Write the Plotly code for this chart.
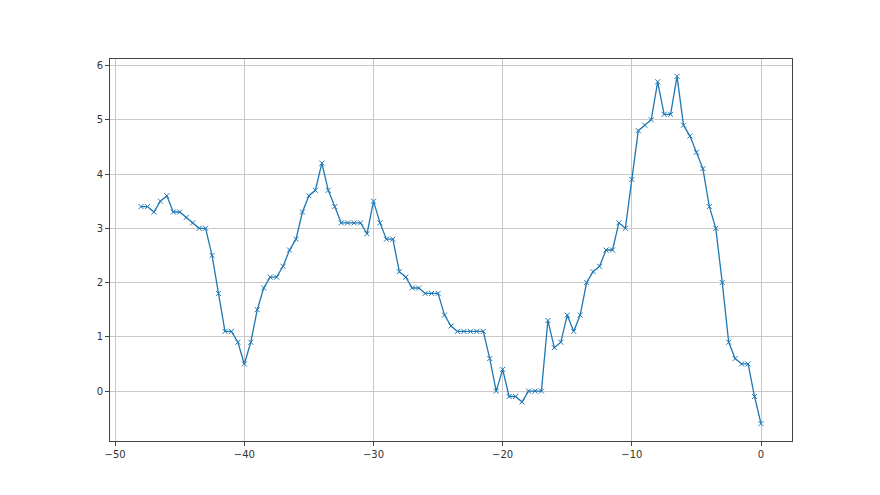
import plotly.graph_objects as go

x_values = [-48 + 0.5 * i for i in range(97)]
y_values = [
    3.4, 3.4, 3.3, 3.5, 3.6, 3.3, 3.3, 3.2, 3.1, 3.0, 3.0, 2.5, 1.8, 1.1, 1.1, 0.9, 0.5,
    0.9, 1.5, 1.9, 2.1, 2.1, 2.3, 2.6, 2.8, 3.3, 3.6, 3.7, 4.2, 3.7, 3.4, 3.1, 3.1,
    3.1, 3.1, 2.9, 3.5, 3.1, 2.8, 2.8, 2.2, 2.1, 1.9, 1.9, 1.8, 1.8, 1.8, 1.4, 1.2,
    1.1, 1.1, 1.1, 1.1, 1.1, 0.6, 0.0, 0.4, -0.1, -0.1, -0.2, 0.0, 0.0, 0.0, 1.3,
    0.8, 0.9, 1.4, 1.1, 1.4, 2.0, 2.2, 2.3, 2.6, 2.6, 3.1, 3.0, 3.9, 4.8, 4.9, 5.0,
    5.7, 5.1, 5.1, 5.8, 4.9, 4.7, 4.4, 4.1, 3.4, 3.0, 2.0, 0.9, 0.6, 0.5, 0.5, -0.1,
    -0.6,
]
x_ticks = [-50, -40, -30, -20, -10, 0]
y_ticks = [0, 1, 2, 3, 4, 5, 6]

fig = go.Figure()
fig.add_trace(go.Scatter(
    x=x_values, y=y_values, mode="lines+markers",
    line=dict(color="#1f77b4", width=1.3),
    marker=dict(symbol="x-thin", size=5, color="#1f77b4",
                line=dict(width=1, color="#1f77b4")),
    showlegend=False,
))

axis_common = dict(
    showgrid=True, gridcolor="#c8c8c8", gridwidth=0.8,
    zeroline=False, showline=True, linecolor="#444444", linewidth=1,
    mirror=True, ticks="outside", ticklen=4, tickwidth=1, tickcolor="#444444",
    tickfont=dict(family="DejaVu Sans", size=10, color="#333333"),
)
fig.update_xaxes(range=[-50.4, 2.4], tickvals=x_ticks, **axis_common)
fig.update_yaxes(range=[-0.92, 6.12], tickvals=y_ticks, **axis_common)

fig.update_layout(
    width=880, height=495,
    margin=dict(l=102, r=96, t=51, b=62),
    plot_bgcolor="white", paper_bgcolor="white",
)
fig.write_html("out.html")
